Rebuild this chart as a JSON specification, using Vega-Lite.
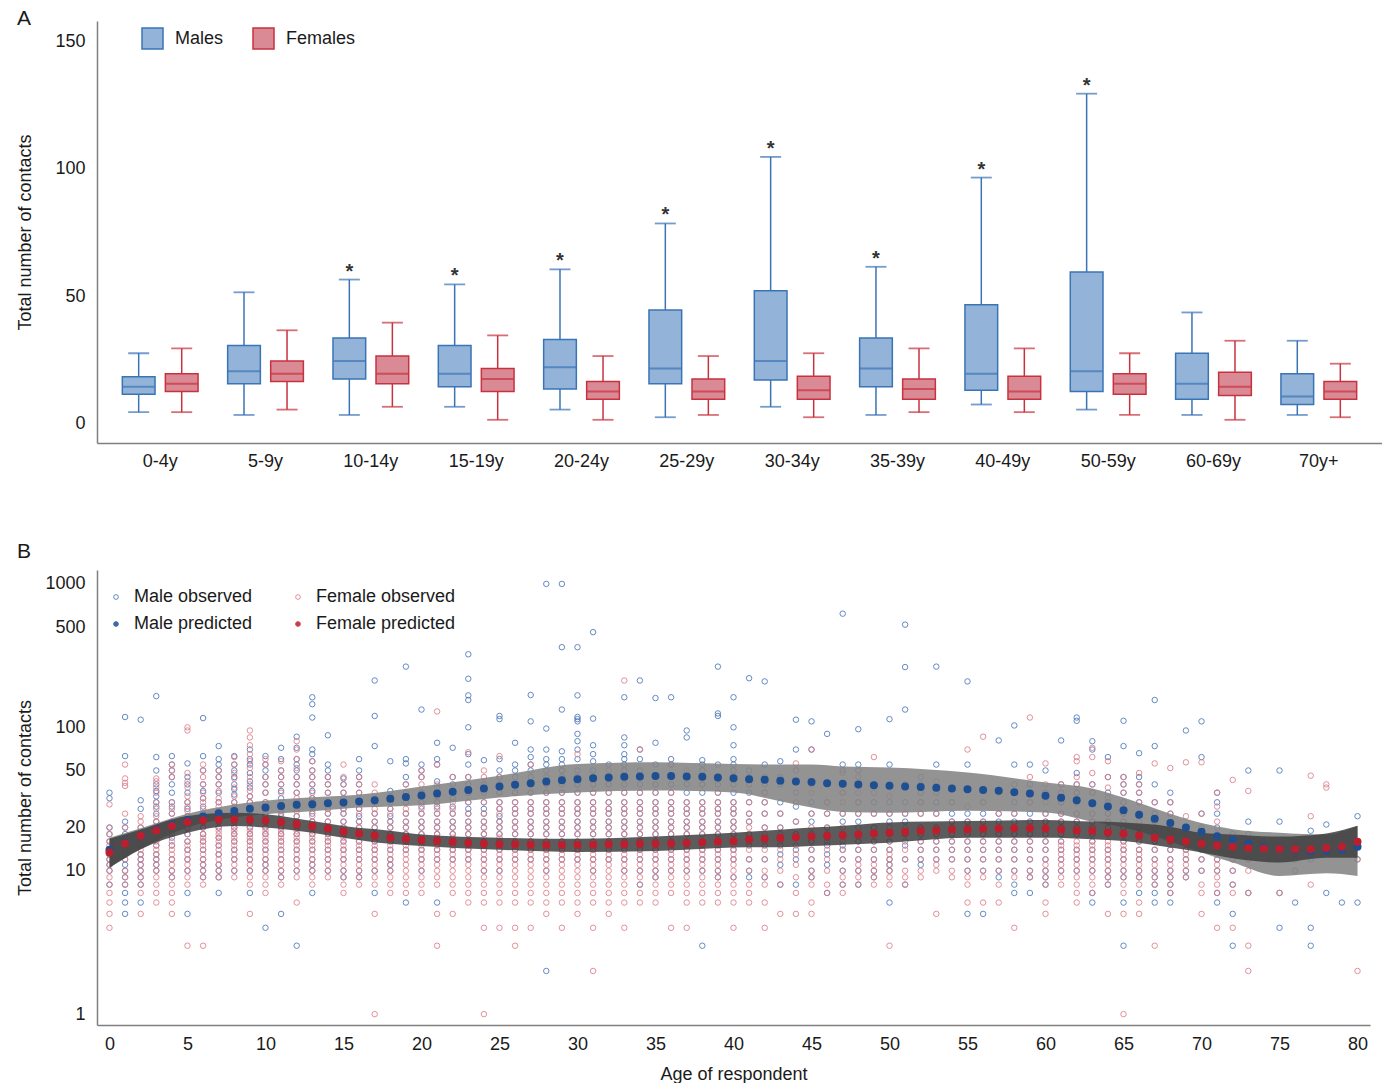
{
"$schema":"https://vega.github.io/schema/vega-lite/v6.json",
"padding":{"left":16,"top":8,"right":0,"bottom":0},
"spacing":71,
"resolve":{"scale":{"stroke":"independent","fill":"independent","color":"independent"},"legend":{"stroke":"independent","fill":"independent","color":"independent"}},
"config":{"font":"Liberation Sans","view":{"stroke":null},
"axis":{"grid":false,"ticks":false,"domainColor":"#7f7f7f","domainWidth":1.5,"labelFontSize":18,"labelColor":"#1a1a1a","titleFontSize":18,"titleFontWeight":"normal","titleColor":"#1a1a1a","labelFont":"Liberation Sans","titleFont":"Liberation Sans"},
"title":{"fontSize":21,"fontWeight":"normal","anchor":"start","frame":"bounds","color":"#1a1a1a"}},
"datasets":{
"pred":[
{"a":0,"m":14.0,"f":13.4},{"a":1,"m":15.7,"f":15.5},{"a":2,"m":17.5,"f":17.5},{"a":3,"m":19.4,"f":19.1},{"a":4,"m":21.1,"f":20.5},{"a":5,"m":22.6,"f":21.9},{"a":6,"m":23.9,"f":22.5},{"a":7,"m":25.2,"f":22.8},{"a":8,"m":26.1,"f":22.8},{"a":9,"m":27.1,"f":22.7},
{"a":10,"m":27.6,"f":22.4},{"a":11,"m":28.3,"f":21.8},{"a":12,"m":28.8,"f":21.1},{"a":13,"m":29.1,"f":20.4},{"a":14,"m":29.6,"f":19.7},{"a":15,"m":29.9,"f":18.8},{"a":16,"m":30.4,"f":18.2},{"a":17,"m":31.0,"f":17.6},{"a":18,"m":31.7,"f":17.0},{"a":19,"m":32.6,"f":16.7},
{"a":20,"m":33.4,"f":16.4},{"a":21,"m":34.5,"f":16.1},{"a":22,"m":35.5,"f":15.9},{"a":23,"m":36.5,"f":15.6},{"a":24,"m":37.4,"f":15.4},{"a":25,"m":38.7,"f":15.3},{"a":26,"m":39.7,"f":15.3},{"a":27,"m":40.8,"f":15.2},{"a":28,"m":41.9,"f":15.1},{"a":29,"m":42.8,"f":15.1},
{"a":30,"m":43.5,"f":15.1},{"a":31,"m":44.2,"f":15.2},{"a":32,"m":44.7,"f":15.3},{"a":33,"m":45.2,"f":15.3},{"a":34,"m":45.4,"f":15.4},{"a":35,"m":45.7,"f":15.4},{"a":36,"m":45.7,"f":15.5},{"a":37,"m":45.4,"f":15.6},{"a":38,"m":45.2,"f":15.8},{"a":39,"m":44.7,"f":16.0},
{"a":40,"m":44.2,"f":16.1},{"a":41,"m":43.5,"f":16.6},{"a":42,"m":43.1,"f":16.7},{"a":43,"m":42.4,"f":16.9},{"a":44,"m":41.9,"f":17.1},{"a":45,"m":41.5,"f":17.3},{"a":46,"m":40.8,"f":17.5},{"a":47,"m":40.4,"f":17.7},{"a":48,"m":39.9,"f":17.9},{"a":49,"m":39.5,"f":18.2},
{"a":50,"m":39.1,"f":18.4},{"a":51,"m":38.7,"f":18.7},{"a":52,"m":38.3,"f":19.0},{"a":53,"m":37.9,"f":19.1},{"a":54,"m":37.4,"f":19.4},{"a":55,"m":37.0,"f":19.4},{"a":56,"m":36.6,"f":19.6},{"a":57,"m":36.1,"f":19.7},{"a":58,"m":35.3,"f":19.8},{"a":59,"m":34.5,"f":19.8},
{"a":60,"m":33.3,"f":19.7},{"a":61,"m":32.3,"f":19.4},{"a":62,"m":31.0,"f":19.1},{"a":63,"m":29.6,"f":19.0},{"a":64,"m":28.0,"f":18.5},{"a":65,"m":26.4,"f":18.1},{"a":66,"m":24.6,"f":17.6},{"a":67,"m":23.0,"f":17.0},{"a":68,"m":21.5,"f":16.5},{"a":69,"m":20.0,"f":16.0},
{"a":70,"m":18.7,"f":15.4},{"a":71,"m":17.4,"f":15.0},{"a":72,"m":16.4,"f":14.7},{"a":73,"m":15.5,"f":14.4},{"a":74,"m":14.7,"f":14.3},{"a":75,"m":14.3,"f":14.2},{"a":76,"m":13.9,"f":14.1},{"a":77,"m":13.6,"f":14.1},{"a":78,"m":13.8,"f":14.4},{"a":79,"m":14.0,"f":14.7},{"a":80,"m":14.7,"f":15.9}],
"band":[
{"a":0,"mlo":10.5,"mhi":17.0,"flo":10.5,"fhi":16.7},{"a":2,"mlo":14.1,"mhi":19.8,"flo":14.1,"fhi":19.4},{"a":5,"mlo":20.0,"mhi":25.0,"flo":18.4,"fhi":24.1},{"a":8,"mlo":23.5,"mhi":29.0,"flo":20.5,"fhi":25.4},{"a":10,"mlo":24.8,"mhi":30.8,"flo":20.0,"fhi":24.8},{"a":13,"mlo":26.0,"mhi":32.5,"flo":18.4,"fhi":22.2},{"a":15,"mlo":27.1,"mhi":33.3,"flo":17.0,"fhi":20.5},{"a":18,"mlo":28.0,"mhi":36.0,"flo":15.4,"fhi":19.0},{"a":20,"mlo":28.6,"mhi":38.7,"flo":14.9,"fhi":17.9},{"a":25,"mlo":32.4,"mhi":46.0,"flo":14.0,"fhi":17.0},{"a":30,"mlo":35.1,"mhi":55.4,"flo":13.5,"fhi":16.7},{"a":35,"mlo":36.2,"mhi":57.0,"flo":13.7,"fhi":17.3},{"a":40,"mlo":35.1,"mhi":55.4,"flo":14.5,"fhi":18.4},{"a":43,"mlo":30.5,"mhi":55.0,"flo":14.6,"fhi":19.3},{"a":45,"mlo":27.6,"mhi":55.0,"flo":14.9,"fhi":20.0},{"a":47,"mlo":25.7,"mhi":53.3,"flo":15.2,"fhi":20.6},{"a":50,"mlo":25.4,"mhi":52.5,"flo":15.7,"fhi":21.7},{"a":55,"mlo":26.2,"mhi":48.5,"flo":17.0,"fhi":22.2},{"a":60,"mlo":25.5,"mhi":41.3,"flo":17.0,"fhi":22.6},{"a":63,"mlo":22.0,"mhi":37.5,"flo":16.6,"fhi":22.0},{"a":65,"mlo":20.0,"mhi":32.4,"flo":16.1,"fhi":21.7},{"a":68,"mlo":16.0,"mhi":25.0,"flo":14.5,"fhi":20.3},{"a":70,"mlo":13.4,"mhi":21.5,"flo":13.4,"fhi":18.4},{"a":72,"mlo":11.4,"mhi":19.5,"flo":12.2,"fhi":17.9},{"a":75,"mlo":9.2,"mhi":18.4,"flo":11.4,"fhi":17.3},{"a":78,"mlo":9.6,"mhi":17.9,"flo":12.3,"fhi":18.2},{"a":80,"mlo":9.2,"mhi":20.5,"flo":12.3,"fhi":20.6}],
"mo":[
{"a":0,"v":35},{"a":0,"v":32},{"a":0,"v":20},{"a":0,"v":18},{"a":0,"v":16},{"a":0,"v":14},{"a":0,"v":13},{"a":0,"v":12},{"a":0,"v":11},{"a":0,"v":10},{"a":0,"v":8},
{"a":1,"v":118},{"a":1,"v":63},{"a":1,"v":22},{"a":1,"v":20},{"a":1,"v":18},{"a":1,"v":15},{"a":1,"v":13},{"a":1,"v":12},{"a":1,"v":11},{"a":1,"v":10},{"a":1,"v":9},{"a":1,"v":8},{"a":1,"v":7},{"a":1,"v":6},{"a":1,"v":5},
{"a":2,"v":113},{"a":2,"v":31},{"a":2,"v":27},{"a":2,"v":20},{"a":2,"v":17},{"a":2,"v":15},{"a":2,"v":13},{"a":2,"v":12},{"a":2,"v":11},{"a":2,"v":10},{"a":2,"v":9},{"a":2,"v":8},{"a":2,"v":6},
{"a":3,"v":165},{"a":3,"v":62},{"a":3,"v":50},{"a":3,"v":40},{"a":3,"v":36},{"a":3,"v":33},{"a":3,"v":30},{"a":3,"v":28},{"a":3,"v":25},{"a":3,"v":22},{"a":3,"v":19},{"a":3,"v":17},{"a":3,"v":15},{"a":3,"v":13},{"a":3,"v":12},{"a":3,"v":11},{"a":3,"v":10},
{"a":4,"v":63},{"a":4,"v":55},{"a":4,"v":50},{"a":4,"v":45},{"a":4,"v":40},{"a":4,"v":35},{"a":4,"v":30},{"a":4,"v":28},{"a":4,"v":25},{"a":4,"v":22},{"a":4,"v":20},{"a":4,"v":17},{"a":4,"v":15},{"a":4,"v":12},{"a":4,"v":10},{"a":4,"v":9},
{"a":5,"v":56},{"a":5,"v":45},{"a":5,"v":40},{"a":5,"v":35},{"a":5,"v":30},{"a":5,"v":27},{"a":5,"v":24},{"a":5,"v":22},{"a":5,"v":20},{"a":5,"v":18},{"a":5,"v":16},{"a":5,"v":14},{"a":5,"v":12},{"a":5,"v":10},{"a":5,"v":7},{"a":5,"v":5},
{"a":6,"v":116},{"a":6,"v":63},{"a":6,"v":50},{"a":6,"v":40},{"a":6,"v":36},{"a":6,"v":32},{"a":6,"v":28},{"a":6,"v":25},{"a":6,"v":22},{"a":6,"v":20},{"a":6,"v":18},{"a":6,"v":16},{"a":6,"v":14},{"a":6,"v":12},{"a":6,"v":11},{"a":6,"v":10},{"a":6,"v":9},
{"a":7,"v":74},{"a":7,"v":60},{"a":7,"v":55},{"a":7,"v":50},{"a":7,"v":45},{"a":7,"v":40},{"a":7,"v":35},{"a":7,"v":30},{"a":7,"v":26},{"a":7,"v":24},{"a":7,"v":22},{"a":7,"v":20},{"a":7,"v":17},{"a":7,"v":15},{"a":7,"v":13},{"a":7,"v":11},{"a":7,"v":10},{"a":7,"v":9},{"a":7,"v":7},
{"a":8,"v":63},{"a":8,"v":55},{"a":8,"v":50},{"a":8,"v":45},{"a":8,"v":40},{"a":8,"v":37},{"a":8,"v":34},{"a":8,"v":30},{"a":8,"v":27},{"a":8,"v":24},{"a":8,"v":22},{"a":8,"v":20},{"a":8,"v":18},{"a":8,"v":16},{"a":8,"v":14},{"a":8,"v":12},{"a":8,"v":10},
{"a":9,"v":70},{"a":9,"v":60},{"a":9,"v":55},{"a":9,"v":48},{"a":9,"v":42},{"a":9,"v":38},{"a":9,"v":33},{"a":9,"v":30},{"a":9,"v":27},{"a":9,"v":25},{"a":9,"v":22},{"a":9,"v":20},{"a":9,"v":18},{"a":9,"v":16},{"a":9,"v":14},{"a":9,"v":12},{"a":9,"v":10},{"a":9,"v":7},
{"a":10,"v":63},{"a":10,"v":55},{"a":10,"v":50},{"a":10,"v":45},{"a":10,"v":40},{"a":10,"v":35},{"a":10,"v":30},{"a":10,"v":27},{"a":10,"v":25},{"a":10,"v":22},{"a":10,"v":20},{"a":10,"v":18},{"a":10,"v":16},{"a":10,"v":14},{"a":10,"v":12},{"a":10,"v":11},{"a":10,"v":10},{"a":10,"v":4},
{"a":11,"v":72},{"a":11,"v":60},{"a":11,"v":50},{"a":11,"v":45},{"a":11,"v":40},{"a":11,"v":36},{"a":11,"v":32},{"a":11,"v":28},{"a":11,"v":25},{"a":11,"v":22},{"a":11,"v":20},{"a":11,"v":18},{"a":11,"v":16},{"a":11,"v":14},{"a":11,"v":12},{"a":11,"v":10},{"a":11,"v":9},{"a":11,"v":5},
{"a":12,"v":86},{"a":12,"v":72},{"a":12,"v":60},{"a":12,"v":55},{"a":12,"v":50},{"a":12,"v":45},{"a":12,"v":40},{"a":12,"v":35},{"a":12,"v":30},{"a":12,"v":27},{"a":12,"v":24},{"a":12,"v":22},{"a":12,"v":20},{"a":12,"v":18},{"a":12,"v":16},{"a":12,"v":14},{"a":12,"v":12},{"a":12,"v":10},{"a":12,"v":3},
{"a":13,"v":162},{"a":13,"v":145},{"a":13,"v":117},{"a":13,"v":70},{"a":13,"v":65},{"a":13,"v":58},{"a":13,"v":50},{"a":13,"v":45},{"a":13,"v":40},{"a":13,"v":36},{"a":13,"v":32},{"a":13,"v":28},{"a":13,"v":25},{"a":13,"v":22},{"a":13,"v":20},{"a":13,"v":18},{"a":13,"v":16},{"a":13,"v":14},{"a":13,"v":12},{"a":13,"v":11},{"a":13,"v":10},{"a":13,"v":7},
{"a":14,"v":88},{"a":14,"v":55},{"a":14,"v":50},{"a":14,"v":45},{"a":14,"v":40},{"a":14,"v":35},{"a":14,"v":30},{"a":14,"v":27},{"a":14,"v":25},{"a":14,"v":22},{"a":14,"v":20},{"a":14,"v":18},{"a":14,"v":16},{"a":14,"v":14},{"a":14,"v":12},{"a":14,"v":10},
{"a":15,"v":44},{"a":15,"v":40},{"a":15,"v":35},{"a":15,"v":32},{"a":15,"v":30},{"a":15,"v":27},{"a":15,"v":25},{"a":15,"v":22},{"a":15,"v":20},{"a":15,"v":18},{"a":15,"v":16},{"a":15,"v":14},{"a":15,"v":12},{"a":15,"v":10},{"a":15,"v":9},
{"a":16,"v":60},{"a":16,"v":50},{"a":16,"v":45},{"a":16,"v":40},{"a":16,"v":35},{"a":16,"v":30},{"a":16,"v":27},{"a":16,"v":24},{"a":16,"v":22},{"a":16,"v":20},{"a":16,"v":18},{"a":16,"v":16},{"a":16,"v":14},{"a":16,"v":12},{"a":16,"v":10},{"a":16,"v":9},
{"a":17,"v":212},{"a":17,"v":120},{"a":17,"v":74},{"a":17,"v":30},{"a":17,"v":25},{"a":17,"v":22},{"a":17,"v":20},{"a":17,"v":18},{"a":17,"v":16},{"a":17,"v":14},{"a":17,"v":12},{"a":17,"v":10},{"a":17,"v":7},
{"a":18,"v":58},{"a":18,"v":36},{"a":18,"v":33},{"a":18,"v":30},{"a":18,"v":27},{"a":18,"v":24},{"a":18,"v":22},{"a":18,"v":20},{"a":18,"v":18},{"a":18,"v":16},{"a":18,"v":14},{"a":18,"v":12},{"a":18,"v":11},{"a":18,"v":10},
{"a":19,"v":265},{"a":19,"v":60},{"a":19,"v":56},{"a":19,"v":45},{"a":19,"v":40},{"a":19,"v":35},{"a":19,"v":30},{"a":19,"v":25},{"a":19,"v":22},{"a":19,"v":20},{"a":19,"v":18},{"a":19,"v":16},{"a":19,"v":14},{"a":19,"v":6},
{"a":20,"v":133},{"a":20,"v":55},{"a":20,"v":50},{"a":20,"v":45},{"a":20,"v":35},{"a":20,"v":30},{"a":20,"v":28},{"a":20,"v":25},{"a":20,"v":22},{"a":20,"v":20},{"a":20,"v":18},{"a":20,"v":16},{"a":20,"v":14},{"a":20,"v":12},{"a":20,"v":10},
{"a":21,"v":78},{"a":21,"v":60},{"a":21,"v":55},{"a":21,"v":42},{"a":21,"v":38},{"a":21,"v":33},{"a":21,"v":30},{"a":21,"v":28},{"a":21,"v":25},{"a":21,"v":22},{"a":21,"v":20},{"a":21,"v":18},{"a":21,"v":16},{"a":21,"v":14},{"a":21,"v":12},{"a":21,"v":6},
{"a":22,"v":72},{"a":22,"v":45},{"a":22,"v":40},{"a":22,"v":35},{"a":22,"v":32},{"a":22,"v":28},{"a":22,"v":25},{"a":22,"v":22},{"a":22,"v":20},{"a":22,"v":18},{"a":22,"v":16},{"a":22,"v":14},{"a":22,"v":12},
{"a":23,"v":323},{"a":23,"v":218},{"a":23,"v":167},{"a":23,"v":155},{"a":23,"v":100},{"a":23,"v":65},{"a":23,"v":55},{"a":23,"v":45},{"a":23,"v":40},{"a":23,"v":35},{"a":23,"v":30},{"a":23,"v":27},{"a":23,"v":25},{"a":23,"v":22},{"a":23,"v":20},{"a":23,"v":18},{"a":23,"v":16},{"a":23,"v":14},{"a":23,"v":12},
{"a":24,"v":59},{"a":24,"v":40},{"a":24,"v":35},{"a":24,"v":30},{"a":24,"v":27},{"a":24,"v":25},{"a":24,"v":22},{"a":24,"v":20},{"a":24,"v":18},{"a":24,"v":16},{"a":24,"v":14},{"a":24,"v":12},{"a":24,"v":10},
{"a":25,"v":120},{"a":25,"v":114},{"a":25,"v":60},{"a":25,"v":50},{"a":25,"v":45},{"a":25,"v":40},{"a":25,"v":35},{"a":25,"v":30},{"a":25,"v":27},{"a":25,"v":24},{"a":25,"v":22},{"a":25,"v":20},{"a":25,"v":18},{"a":25,"v":16},{"a":25,"v":14},{"a":25,"v":12},{"a":25,"v":10},
{"a":26,"v":78},{"a":26,"v":55},{"a":26,"v":50},{"a":26,"v":45},{"a":26,"v":40},{"a":26,"v":35},{"a":26,"v":30},{"a":26,"v":27},{"a":26,"v":25},{"a":26,"v":22},{"a":26,"v":20},{"a":26,"v":18},{"a":26,"v":16},{"a":26,"v":14},{"a":26,"v":12},
{"a":27,"v":168},{"a":27,"v":110},{"a":27,"v":70},{"a":27,"v":62},{"a":27,"v":55},{"a":27,"v":50},{"a":27,"v":45},{"a":27,"v":40},{"a":27,"v":35},{"a":27,"v":30},{"a":27,"v":27},{"a":27,"v":25},{"a":27,"v":22},{"a":27,"v":20},{"a":27,"v":18},{"a":27,"v":16},{"a":27,"v":14},{"a":27,"v":12},
{"a":28,"v":1000},{"a":28,"v":98},{"a":28,"v":70},{"a":28,"v":60},{"a":28,"v":55},{"a":28,"v":50},{"a":28,"v":45},{"a":28,"v":40},{"a":28,"v":35},{"a":28,"v":30},{"a":28,"v":27},{"a":28,"v":25},{"a":28,"v":22},{"a":28,"v":20},{"a":28,"v":18},{"a":28,"v":16},{"a":28,"v":14},{"a":28,"v":12},{"a":28,"v":10},{"a":28,"v":2},
{"a":29,"v":1000},{"a":29,"v":362},{"a":29,"v":133},{"a":29,"v":68},{"a":29,"v":60},{"a":29,"v":55},{"a":29,"v":50},{"a":29,"v":45},{"a":29,"v":40},{"a":29,"v":35},{"a":29,"v":30},{"a":29,"v":27},{"a":29,"v":25},{"a":29,"v":22},{"a":29,"v":20},{"a":29,"v":18},{"a":29,"v":16},{"a":29,"v":14},{"a":29,"v":12},
{"a":30,"v":362},{"a":30,"v":167},{"a":30,"v":118},{"a":30,"v":114},{"a":30,"v":110},{"a":30,"v":90},{"a":30,"v":80},{"a":30,"v":70},{"a":30,"v":60},{"a":30,"v":50},{"a":30,"v":45},{"a":30,"v":40},{"a":30,"v":35},{"a":30,"v":30},{"a":30,"v":27},{"a":30,"v":25},{"a":30,"v":22},{"a":30,"v":20},{"a":30,"v":18},{"a":30,"v":16},{"a":30,"v":14},{"a":30,"v":12},
{"a":31,"v":461},{"a":31,"v":115},{"a":31,"v":75},{"a":31,"v":65},{"a":31,"v":58},{"a":31,"v":50},{"a":31,"v":45},{"a":31,"v":40},{"a":31,"v":35},{"a":31,"v":30},{"a":31,"v":27},{"a":31,"v":25},{"a":31,"v":22},{"a":31,"v":20},{"a":31,"v":18},{"a":31,"v":16},{"a":31,"v":14},{"a":31,"v":12},{"a":31,"v":10},
{"a":32,"v":55},{"a":32,"v":45},{"a":32,"v":40},{"a":32,"v":35},{"a":32,"v":30},{"a":32,"v":27},{"a":32,"v":25},{"a":32,"v":22},{"a":32,"v":20},{"a":32,"v":18},{"a":32,"v":16},{"a":32,"v":14},{"a":32,"v":12},
{"a":33,"v":162},{"a":33,"v":85},{"a":33,"v":75},{"a":33,"v":65},{"a":33,"v":60},{"a":33,"v":55},{"a":33,"v":50},{"a":33,"v":45},{"a":33,"v":40},{"a":33,"v":35},{"a":33,"v":30},{"a":33,"v":27},{"a":33,"v":25},{"a":33,"v":22},{"a":33,"v":20},{"a":33,"v":18},{"a":33,"v":16},{"a":33,"v":14},{"a":33,"v":12},{"a":33,"v":10},
{"a":34,"v":212},{"a":34,"v":70},{"a":34,"v":60},{"a":34,"v":50},{"a":34,"v":45},{"a":34,"v":40},{"a":34,"v":35},{"a":34,"v":30},{"a":34,"v":27},{"a":34,"v":25},{"a":34,"v":22},{"a":34,"v":20},{"a":34,"v":18},{"a":34,"v":16},{"a":34,"v":14},{"a":34,"v":12},{"a":34,"v":10},{"a":34,"v":8},
{"a":35,"v":160},{"a":35,"v":78},{"a":35,"v":55},{"a":35,"v":45},{"a":35,"v":40},{"a":35,"v":35},{"a":35,"v":30},{"a":35,"v":27},{"a":35,"v":25},{"a":35,"v":22},{"a":35,"v":20},{"a":35,"v":18},{"a":35,"v":16},{"a":35,"v":14},{"a":35,"v":12},{"a":35,"v":10},{"a":35,"v":9},
{"a":36,"v":162},{"a":36,"v":60},{"a":36,"v":55},{"a":36,"v":45},{"a":36,"v":40},{"a":36,"v":35},{"a":36,"v":30},{"a":36,"v":27},{"a":36,"v":25},{"a":36,"v":22},{"a":36,"v":20},{"a":36,"v":18},{"a":36,"v":16},{"a":36,"v":14},{"a":36,"v":12},{"a":36,"v":10},
{"a":37,"v":95},{"a":37,"v":85},{"a":37,"v":40},{"a":37,"v":35},{"a":37,"v":30},{"a":37,"v":27},{"a":37,"v":25},{"a":37,"v":22},{"a":37,"v":20},{"a":37,"v":18},{"a":37,"v":16},{"a":37,"v":14},{"a":37,"v":12},{"a":37,"v":10},
{"a":38,"v":59},{"a":38,"v":55},{"a":38,"v":50},{"a":38,"v":45},{"a":38,"v":40},{"a":38,"v":35},{"a":38,"v":30},{"a":38,"v":27},{"a":38,"v":25},{"a":38,"v":22},{"a":38,"v":20},{"a":38,"v":18},{"a":38,"v":16},{"a":38,"v":14},{"a":38,"v":12},{"a":38,"v":10},{"a":38,"v":3},
{"a":39,"v":265},{"a":39,"v":125},{"a":39,"v":120},{"a":39,"v":55},{"a":39,"v":45},{"a":39,"v":40},{"a":39,"v":35},{"a":39,"v":30},{"a":39,"v":27},{"a":39,"v":25},{"a":39,"v":22},{"a":39,"v":20},{"a":39,"v":18},{"a":39,"v":16},{"a":39,"v":14},{"a":39,"v":12},{"a":39,"v":10},{"a":39,"v":9},
{"a":40,"v":162},{"a":40,"v":100},{"a":40,"v":75},{"a":40,"v":60},{"a":40,"v":55},{"a":40,"v":50},{"a":40,"v":45},{"a":40,"v":40},{"a":40,"v":35},{"a":40,"v":30},{"a":40,"v":27},{"a":40,"v":25},{"a":40,"v":22},{"a":40,"v":20},{"a":40,"v":18},{"a":40,"v":16},{"a":40,"v":14},{"a":40,"v":12},{"a":40,"v":9},
{"a":41,"v":220},{"a":41,"v":50},{"a":41,"v":45},{"a":41,"v":40},{"a":41,"v":35},{"a":41,"v":30},{"a":41,"v":25},{"a":41,"v":22},{"a":41,"v":18},{"a":41,"v":15},{"a":41,"v":12},{"a":41,"v":10},{"a":41,"v":9},
{"a":42,"v":209},{"a":42,"v":55},{"a":42,"v":45},{"a":42,"v":40},{"a":42,"v":35},{"a":42,"v":30},{"a":42,"v":25},{"a":42,"v":20},{"a":42,"v":17},{"a":42,"v":15},{"a":42,"v":12},{"a":42,"v":9},
{"a":43,"v":58},{"a":43,"v":45},{"a":43,"v":40},{"a":43,"v":30},{"a":43,"v":25},{"a":43,"v":20},{"a":43,"v":17},{"a":43,"v":15},{"a":43,"v":13},{"a":43,"v":11},{"a":43,"v":8},
{"a":44,"v":113},{"a":44,"v":70},{"a":44,"v":50},{"a":44,"v":35},{"a":44,"v":28},{"a":44,"v":22},{"a":44,"v":18},{"a":44,"v":14},{"a":44,"v":12},{"a":44,"v":8},
{"a":45,"v":110},{"a":45,"v":70},{"a":45,"v":40},{"a":45,"v":30},{"a":45,"v":25},{"a":45,"v":22},{"a":45,"v":18},{"a":45,"v":16},{"a":45,"v":14},{"a":45,"v":12},{"a":45,"v":10},{"a":45,"v":9},
{"a":46,"v":90},{"a":46,"v":40},{"a":46,"v":30},{"a":46,"v":25},{"a":46,"v":20},{"a":46,"v":17},{"a":46,"v":15},{"a":46,"v":13},{"a":46,"v":11},{"a":46,"v":7},
{"a":47,"v":620},{"a":47,"v":55},{"a":47,"v":50},{"a":47,"v":40},{"a":47,"v":35},{"a":47,"v":25},{"a":47,"v":22},{"a":47,"v":18},{"a":47,"v":15},{"a":47,"v":14},{"a":47,"v":12},{"a":47,"v":10},{"a":47,"v":8},
{"a":48,"v":97},{"a":48,"v":55},{"a":48,"v":50},{"a":48,"v":40},{"a":48,"v":30},{"a":48,"v":25},{"a":48,"v":22},{"a":48,"v":18},{"a":48,"v":16},{"a":48,"v":14},{"a":48,"v":12},{"a":48,"v":10},{"a":48,"v":8},
{"a":49,"v":40},{"a":49,"v":30},{"a":49,"v":25},{"a":49,"v":20},{"a":49,"v":18},{"a":49,"v":16},{"a":49,"v":14},{"a":49,"v":12},{"a":49,"v":10},{"a":49,"v":9},
{"a":50,"v":114},{"a":50,"v":55},{"a":50,"v":40},{"a":50,"v":30},{"a":50,"v":25},{"a":50,"v":22},{"a":50,"v":18},{"a":50,"v":16},{"a":50,"v":14},{"a":50,"v":12},{"a":50,"v":11},{"a":50,"v":10},{"a":50,"v":6},
{"a":51,"v":520},{"a":51,"v":263},{"a":51,"v":133},{"a":51,"v":40},{"a":51,"v":30},{"a":51,"v":25},{"a":51,"v":22},{"a":51,"v":18},{"a":51,"v":15},{"a":51,"v":12},{"a":51,"v":8},
{"a":52,"v":45},{"a":52,"v":40},{"a":52,"v":35},{"a":52,"v":30},{"a":52,"v":25},{"a":52,"v":20},{"a":52,"v":18},{"a":52,"v":16},{"a":52,"v":14},{"a":52,"v":12},{"a":52,"v":11},
{"a":53,"v":265},{"a":53,"v":55},{"a":53,"v":35},{"a":53,"v":30},{"a":53,"v":25},{"a":53,"v":20},{"a":53,"v":18},{"a":53,"v":16},{"a":53,"v":14},{"a":53,"v":12},
{"a":54,"v":30},{"a":54,"v":25},{"a":54,"v":22},{"a":54,"v":20},{"a":54,"v":18},{"a":54,"v":16},{"a":54,"v":14},{"a":54,"v":12},
{"a":55,"v":209},{"a":55,"v":55},{"a":55,"v":25},{"a":55,"v":22},{"a":55,"v":20},{"a":55,"v":18},{"a":55,"v":16},{"a":55,"v":14},{"a":55,"v":12},{"a":55,"v":10},{"a":55,"v":5},
{"a":56,"v":30},{"a":56,"v":25},{"a":56,"v":22},{"a":56,"v":18},{"a":56,"v":16},{"a":56,"v":14},{"a":56,"v":12},{"a":56,"v":10},{"a":56,"v":5},
{"a":57,"v":81},{"a":57,"v":25},{"a":57,"v":22},{"a":57,"v":18},{"a":57,"v":16},{"a":57,"v":14},{"a":57,"v":12},{"a":57,"v":10},{"a":57,"v":9},
{"a":58,"v":103},{"a":58,"v":55},{"a":58,"v":40},{"a":58,"v":30},{"a":58,"v":25},{"a":58,"v":22},{"a":58,"v":18},{"a":58,"v":16},{"a":58,"v":14},{"a":58,"v":12},{"a":58,"v":10},{"a":58,"v":8},{"a":58,"v":7},
{"a":59,"v":55},{"a":59,"v":40},{"a":59,"v":30},{"a":59,"v":25},{"a":59,"v":22},{"a":59,"v":18},{"a":59,"v":16},{"a":59,"v":14},{"a":59,"v":12},{"a":59,"v":10},{"a":59,"v":9},{"a":59,"v":7},
{"a":60,"v":50},{"a":60,"v":35},{"a":60,"v":25},{"a":60,"v":22},{"a":60,"v":20},{"a":60,"v":18},{"a":60,"v":16},{"a":60,"v":14},{"a":60,"v":12},{"a":60,"v":10},{"a":60,"v":9},{"a":60,"v":8},
{"a":61,"v":81},{"a":61,"v":40},{"a":61,"v":35},{"a":61,"v":30},{"a":61,"v":25},{"a":61,"v":22},{"a":61,"v":20},{"a":61,"v":18},{"a":61,"v":16},{"a":61,"v":14},{"a":61,"v":12},{"a":61,"v":10},
{"a":62,"v":117},{"a":62,"v":111},{"a":62,"v":48},{"a":62,"v":40},{"a":62,"v":35},{"a":62,"v":30},{"a":62,"v":25},{"a":62,"v":22},{"a":62,"v":20},{"a":62,"v":18},{"a":62,"v":14},{"a":62,"v":12},{"a":62,"v":10},
{"a":63,"v":80},{"a":63,"v":70},{"a":63,"v":40},{"a":63,"v":35},{"a":63,"v":30},{"a":63,"v":25},{"a":63,"v":22},{"a":63,"v":20},{"a":63,"v":18},{"a":63,"v":16},{"a":63,"v":14},{"a":63,"v":12},{"a":63,"v":10},{"a":63,"v":7},{"a":63,"v":6},
{"a":64,"v":62},{"a":64,"v":45},{"a":64,"v":35},{"a":64,"v":30},{"a":64,"v":25},{"a":64,"v":22},{"a":64,"v":20},{"a":64,"v":18},{"a":64,"v":14},{"a":64,"v":12},{"a":64,"v":10},{"a":64,"v":9},{"a":64,"v":8},
{"a":65,"v":111},{"a":65,"v":74},{"a":65,"v":45},{"a":65,"v":40},{"a":65,"v":35},{"a":65,"v":30},{"a":65,"v":25},{"a":65,"v":22},{"a":65,"v":20},{"a":65,"v":18},{"a":65,"v":16},{"a":65,"v":14},{"a":65,"v":12},{"a":65,"v":10},{"a":65,"v":9},{"a":65,"v":6},{"a":65,"v":3},
{"a":66,"v":66},{"a":66,"v":45},{"a":66,"v":40},{"a":66,"v":35},{"a":66,"v":30},{"a":66,"v":25},{"a":66,"v":20},{"a":66,"v":18},{"a":66,"v":16},{"a":66,"v":14},{"a":66,"v":12},{"a":66,"v":10},{"a":66,"v":9},{"a":66,"v":7},
{"a":67,"v":155},{"a":67,"v":74},{"a":67,"v":40},{"a":67,"v":30},{"a":67,"v":25},{"a":67,"v":22},{"a":67,"v":20},{"a":67,"v":18},{"a":67,"v":16},{"a":67,"v":14},{"a":67,"v":12},{"a":67,"v":10},{"a":67,"v":9},{"a":67,"v":8},{"a":67,"v":7},{"a":67,"v":6},
{"a":68,"v":35},{"a":68,"v":30},{"a":68,"v":25},{"a":68,"v":20},{"a":68,"v":18},{"a":68,"v":16},{"a":68,"v":14},{"a":68,"v":12},{"a":68,"v":10},{"a":68,"v":9},{"a":68,"v":8},{"a":68,"v":7},{"a":68,"v":6},
{"a":69,"v":95},{"a":69,"v":20},{"a":69,"v":18},{"a":69,"v":16},{"a":69,"v":14},{"a":69,"v":12},{"a":69,"v":10},{"a":69,"v":9},
{"a":70,"v":110},{"a":70,"v":62},{"a":70,"v":25},{"a":70,"v":20},{"a":70,"v":17},{"a":70,"v":14},{"a":70,"v":12},{"a":70,"v":10},
{"a":71,"v":35},{"a":71,"v":30},{"a":71,"v":25},{"a":71,"v":20},{"a":71,"v":17},{"a":71,"v":15},{"a":71,"v":12},{"a":71,"v":10},{"a":71,"v":7},{"a":71,"v":6},
{"a":72,"v":18},{"a":72,"v":16},{"a":72,"v":14},{"a":72,"v":12},{"a":72,"v":10},{"a":72,"v":8},{"a":72,"v":5},{"a":72,"v":3},
{"a":73,"v":50},{"a":73,"v":22},{"a":73,"v":18},{"a":73,"v":16},{"a":73,"v":12},{"a":73,"v":7},
{"a":75,"v":50},{"a":75,"v":22},{"a":75,"v":7},{"a":75,"v":4},
{"a":76,"v":12},{"a":76,"v":10},{"a":76,"v":6},
{"a":77,"v":19},{"a":77,"v":12},{"a":77,"v":4},{"a":77,"v":3},
{"a":78,"v":21},{"a":78,"v":7},
{"a":79,"v":18},{"a":79,"v":14},{"a":79,"v":6},
{"a":80,"v":24},{"a":80,"v":12},{"a":80,"v":6}],
"fo":[
{"a":0,"v":29},{"a":0,"v":20},{"a":0,"v":18},{"a":0,"v":16},{"a":0,"v":15},{"a":0,"v":14},{"a":0,"v":13},{"a":0,"v":12},{"a":0,"v":11},{"a":0,"v":10},{"a":0,"v":9},{"a":0,"v":8},{"a":0,"v":7},{"a":0,"v":6},{"a":0,"v":5},{"a":0,"v":4},
{"a":1,"v":55},{"a":1,"v":44},{"a":1,"v":41},{"a":1,"v":39},{"a":1,"v":25},{"a":1,"v":20},{"a":1,"v":17},{"a":1,"v":15},{"a":1,"v":14},{"a":1,"v":12},{"a":1,"v":10},{"a":1,"v":9},{"a":1,"v":8},
{"a":2,"v":24},{"a":2,"v":22},{"a":2,"v":20},{"a":2,"v":18},{"a":2,"v":17},{"a":2,"v":16},{"a":2,"v":15},{"a":2,"v":14},{"a":2,"v":13},{"a":2,"v":12},{"a":2,"v":11},{"a":2,"v":10},{"a":2,"v":9},{"a":2,"v":8},{"a":2,"v":7},{"a":2,"v":5},
{"a":3,"v":44},{"a":3,"v":42},{"a":3,"v":38},{"a":3,"v":35},{"a":3,"v":30},{"a":3,"v":27},{"a":3,"v":24},{"a":3,"v":22},{"a":3,"v":20},{"a":3,"v":18},{"a":3,"v":16},{"a":3,"v":15},{"a":3,"v":14},{"a":3,"v":13},{"a":3,"v":12},{"a":3,"v":11},{"a":3,"v":10},{"a":3,"v":9},{"a":3,"v":8},{"a":3,"v":7},{"a":3,"v":6},
{"a":4,"v":55},{"a":4,"v":50},{"a":4,"v":45},{"a":4,"v":30},{"a":4,"v":27},{"a":4,"v":25},{"a":4,"v":22},{"a":4,"v":20},{"a":4,"v":18},{"a":4,"v":16},{"a":4,"v":15},{"a":4,"v":14},{"a":4,"v":13},{"a":4,"v":12},{"a":4,"v":11},{"a":4,"v":10},{"a":4,"v":9},{"a":4,"v":8},{"a":4,"v":7},{"a":4,"v":6},{"a":4,"v":5},
{"a":5,"v":100},{"a":5,"v":95},{"a":5,"v":48},{"a":5,"v":42},{"a":5,"v":38},{"a":5,"v":33},{"a":5,"v":30},{"a":5,"v":28},{"a":5,"v":26},{"a":5,"v":24},{"a":5,"v":22},{"a":5,"v":20},{"a":5,"v":18},{"a":5,"v":16},{"a":5,"v":15},{"a":5,"v":14},{"a":5,"v":13},{"a":5,"v":12},{"a":5,"v":11},{"a":5,"v":10},{"a":5,"v":9},{"a":5,"v":8},{"a":5,"v":3},
{"a":6,"v":55},{"a":6,"v":50},{"a":6,"v":45},{"a":6,"v":40},{"a":6,"v":35},{"a":6,"v":32},{"a":6,"v":30},{"a":6,"v":27},{"a":6,"v":25},{"a":6,"v":22},{"a":6,"v":20},{"a":6,"v":18},{"a":6,"v":17},{"a":6,"v":16},{"a":6,"v":15},{"a":6,"v":14},{"a":6,"v":13},{"a":6,"v":12},{"a":6,"v":11},{"a":6,"v":10},{"a":6,"v":9},{"a":6,"v":8},{"a":6,"v":3},
{"a":7,"v":50},{"a":7,"v":45},{"a":7,"v":40},{"a":7,"v":36},{"a":7,"v":32},{"a":7,"v":30},{"a":7,"v":28},{"a":7,"v":26},{"a":7,"v":24},{"a":7,"v":22},{"a":7,"v":20},{"a":7,"v":19},{"a":7,"v":18},{"a":7,"v":17},{"a":7,"v":16},{"a":7,"v":15},{"a":7,"v":14},{"a":7,"v":13},{"a":7,"v":12},{"a":7,"v":11},{"a":7,"v":10},{"a":7,"v":9},
{"a":8,"v":62},{"a":8,"v":55},{"a":8,"v":48},{"a":8,"v":44},{"a":8,"v":38},{"a":8,"v":33},{"a":8,"v":30},{"a":8,"v":28},{"a":8,"v":25},{"a":8,"v":23},{"a":8,"v":21},{"a":8,"v":20},{"a":8,"v":19},{"a":8,"v":18},{"a":8,"v":17},{"a":8,"v":16},{"a":8,"v":15},{"a":8,"v":14},{"a":8,"v":13},{"a":8,"v":12},{"a":8,"v":11},{"a":8,"v":10},{"a":8,"v":9},
{"a":9,"v":95},{"a":9,"v":85},{"a":9,"v":75},{"a":9,"v":65},{"a":9,"v":58},{"a":9,"v":52},{"a":9,"v":45},{"a":9,"v":40},{"a":9,"v":36},{"a":9,"v":33},{"a":9,"v":30},{"a":9,"v":28},{"a":9,"v":26},{"a":9,"v":24},{"a":9,"v":22},{"a":9,"v":20},{"a":9,"v":19},{"a":9,"v":18},{"a":9,"v":17},{"a":9,"v":16},{"a":9,"v":15},{"a":9,"v":14},{"a":9,"v":13},{"a":9,"v":12},{"a":9,"v":11},{"a":9,"v":10},{"a":9,"v":9},{"a":9,"v":8},{"a":9,"v":5},
{"a":10,"v":60},{"a":10,"v":55},{"a":10,"v":45},{"a":10,"v":40},{"a":10,"v":35},{"a":10,"v":30},{"a":10,"v":28},{"a":10,"v":26},{"a":10,"v":24},{"a":10,"v":22},{"a":10,"v":20},{"a":10,"v":19},{"a":10,"v":18},{"a":10,"v":17},{"a":10,"v":16},{"a":10,"v":15},{"a":10,"v":14},{"a":10,"v":13},{"a":10,"v":12},{"a":10,"v":11},{"a":10,"v":10},{"a":10,"v":9},{"a":10,"v":8},{"a":10,"v":7},
{"a":11,"v":58},{"a":11,"v":50},{"a":11,"v":45},{"a":11,"v":40},{"a":11,"v":35},{"a":11,"v":30},{"a":11,"v":28},{"a":11,"v":26},{"a":11,"v":24},{"a":11,"v":22},{"a":11,"v":20},{"a":11,"v":19},{"a":11,"v":18},{"a":11,"v":17},{"a":11,"v":16},{"a":11,"v":15},{"a":11,"v":14},{"a":11,"v":13},{"a":11,"v":12},{"a":11,"v":11},{"a":11,"v":10},{"a":11,"v":9},{"a":11,"v":8},
{"a":12,"v":80},{"a":12,"v":70},{"a":12,"v":60},{"a":12,"v":52},{"a":12,"v":45},{"a":12,"v":40},{"a":12,"v":35},{"a":12,"v":32},{"a":12,"v":30},{"a":12,"v":28},{"a":12,"v":26},{"a":12,"v":24},{"a":12,"v":22},{"a":12,"v":20},{"a":12,"v":19},{"a":12,"v":18},{"a":12,"v":17},{"a":12,"v":16},{"a":12,"v":15},{"a":12,"v":14},{"a":12,"v":13},{"a":12,"v":12},{"a":12,"v":11},{"a":12,"v":10},{"a":12,"v":9},{"a":12,"v":6},
{"a":13,"v":58},{"a":13,"v":50},{"a":13,"v":45},{"a":13,"v":40},{"a":13,"v":35},{"a":13,"v":32},{"a":13,"v":30},{"a":13,"v":28},{"a":13,"v":26},{"a":13,"v":24},{"a":13,"v":22},{"a":13,"v":20},{"a":13,"v":19},{"a":13,"v":18},{"a":13,"v":17},{"a":13,"v":16},{"a":13,"v":15},{"a":13,"v":14},{"a":13,"v":13},{"a":13,"v":12},{"a":13,"v":11},{"a":13,"v":10},{"a":13,"v":9},{"a":13,"v":8},
{"a":14,"v":45},{"a":14,"v":40},{"a":14,"v":35},{"a":14,"v":30},{"a":14,"v":27},{"a":14,"v":25},{"a":14,"v":22},{"a":14,"v":20},{"a":14,"v":18},{"a":14,"v":17},{"a":14,"v":16},{"a":14,"v":15},{"a":14,"v":14},{"a":14,"v":13},{"a":14,"v":12},{"a":14,"v":11},{"a":14,"v":10},{"a":14,"v":9},
{"a":15,"v":55},{"a":15,"v":45},{"a":15,"v":40},{"a":15,"v":35},{"a":15,"v":30},{"a":15,"v":27},{"a":15,"v":25},{"a":15,"v":22},{"a":15,"v":20},{"a":15,"v":18},{"a":15,"v":17},{"a":15,"v":16},{"a":15,"v":15},{"a":15,"v":14},{"a":15,"v":13},{"a":15,"v":12},{"a":15,"v":11},{"a":15,"v":10},{"a":15,"v":9},{"a":15,"v":8},{"a":15,"v":7},
{"a":16,"v":45},{"a":16,"v":40},{"a":16,"v":35},{"a":16,"v":30},{"a":16,"v":27},{"a":16,"v":25},{"a":16,"v":22},{"a":16,"v":20},{"a":16,"v":18},{"a":16,"v":16},{"a":16,"v":15},{"a":16,"v":14},{"a":16,"v":13},{"a":16,"v":12},{"a":16,"v":11},{"a":16,"v":10},{"a":16,"v":9},{"a":16,"v":8},
{"a":17,"v":40},{"a":17,"v":35},{"a":17,"v":30},{"a":17,"v":27},{"a":17,"v":25},{"a":17,"v":22},{"a":17,"v":20},{"a":17,"v":18},{"a":17,"v":16},{"a":17,"v":15},{"a":17,"v":14},{"a":17,"v":13},{"a":17,"v":12},{"a":17,"v":11},{"a":17,"v":10},{"a":17,"v":9},{"a":17,"v":8},{"a":17,"v":5},{"a":17,"v":1},
{"a":18,"v":30},{"a":18,"v":27},{"a":18,"v":25},{"a":18,"v":22},{"a":18,"v":20},{"a":18,"v":18},{"a":18,"v":16},{"a":18,"v":15},{"a":18,"v":14},{"a":18,"v":13},{"a":18,"v":12},{"a":18,"v":11},{"a":18,"v":10},{"a":18,"v":9},{"a":18,"v":8},{"a":18,"v":7},
{"a":19,"v":40},{"a":19,"v":35},{"a":19,"v":30},{"a":19,"v":27},{"a":19,"v":25},{"a":19,"v":22},{"a":19,"v":20},{"a":19,"v":18},{"a":19,"v":16},{"a":19,"v":15},{"a":19,"v":14},{"a":19,"v":13},{"a":19,"v":12},{"a":19,"v":11},{"a":19,"v":10},{"a":19,"v":9},{"a":19,"v":8},{"a":19,"v":7},
{"a":20,"v":50},{"a":20,"v":45},{"a":20,"v":40},{"a":20,"v":35},{"a":20,"v":30},{"a":20,"v":27},{"a":20,"v":25},{"a":20,"v":22},{"a":20,"v":20},{"a":20,"v":18},{"a":20,"v":17},{"a":20,"v":16},{"a":20,"v":15},{"a":20,"v":14},{"a":20,"v":13},{"a":20,"v":12},{"a":20,"v":11},{"a":20,"v":10},{"a":20,"v":9},{"a":20,"v":8},{"a":20,"v":7},
{"a":21,"v":129},{"a":21,"v":55},{"a":21,"v":40},{"a":21,"v":35},{"a":21,"v":30},{"a":21,"v":27},{"a":21,"v":25},{"a":21,"v":22},{"a":21,"v":20},{"a":21,"v":18},{"a":21,"v":17},{"a":21,"v":16},{"a":21,"v":15},{"a":21,"v":14},{"a":21,"v":13},{"a":21,"v":12},{"a":21,"v":11},{"a":21,"v":10},{"a":21,"v":9},{"a":21,"v":8},{"a":21,"v":5},{"a":21,"v":3},
{"a":22,"v":45},{"a":22,"v":30},{"a":22,"v":27},{"a":22,"v":25},{"a":22,"v":22},{"a":22,"v":20},{"a":22,"v":18},{"a":22,"v":17},{"a":22,"v":16},{"a":22,"v":15},{"a":22,"v":14},{"a":22,"v":13},{"a":22,"v":12},{"a":22,"v":11},{"a":22,"v":10},{"a":22,"v":9},{"a":22,"v":8},{"a":22,"v":7},{"a":22,"v":5},
{"a":23,"v":67},{"a":23,"v":45},{"a":23,"v":35},{"a":23,"v":30},{"a":23,"v":25},{"a":23,"v":22},{"a":23,"v":20},{"a":23,"v":18},{"a":23,"v":16},{"a":23,"v":15},{"a":23,"v":14},{"a":23,"v":13},{"a":23,"v":12},{"a":23,"v":11},{"a":23,"v":10},{"a":23,"v":9},{"a":23,"v":8},{"a":23,"v":7},{"a":23,"v":6},
{"a":24,"v":50},{"a":24,"v":45},{"a":24,"v":40},{"a":24,"v":30},{"a":24,"v":25},{"a":24,"v":22},{"a":24,"v":20},{"a":24,"v":18},{"a":24,"v":16},{"a":24,"v":15},{"a":24,"v":14},{"a":24,"v":13},{"a":24,"v":12},{"a":24,"v":11},{"a":24,"v":10},{"a":24,"v":9},{"a":24,"v":8},{"a":24,"v":7},{"a":24,"v":6},{"a":24,"v":4},{"a":24,"v":1},
{"a":25,"v":63},{"a":25,"v":45},{"a":25,"v":40},{"a":25,"v":35},{"a":25,"v":30},{"a":25,"v":27},{"a":25,"v":25},{"a":25,"v":22},{"a":25,"v":20},{"a":25,"v":18},{"a":25,"v":17},{"a":25,"v":16},{"a":25,"v":15},{"a":25,"v":14},{"a":25,"v":13},{"a":25,"v":12},{"a":25,"v":11},{"a":25,"v":10},{"a":25,"v":9},{"a":25,"v":8},{"a":25,"v":7},{"a":25,"v":6},{"a":25,"v":4},
{"a":26,"v":40},{"a":26,"v":35},{"a":26,"v":30},{"a":26,"v":27},{"a":26,"v":25},{"a":26,"v":22},{"a":26,"v":20},{"a":26,"v":18},{"a":26,"v":16},{"a":26,"v":15},{"a":26,"v":14},{"a":26,"v":13},{"a":26,"v":12},{"a":26,"v":11},{"a":26,"v":10},{"a":26,"v":9},{"a":26,"v":8},{"a":26,"v":7},{"a":26,"v":6},{"a":26,"v":4},{"a":26,"v":3},
{"a":27,"v":55},{"a":27,"v":40},{"a":27,"v":35},{"a":27,"v":30},{"a":27,"v":27},{"a":27,"v":25},{"a":27,"v":22},{"a":27,"v":20},{"a":27,"v":18},{"a":27,"v":16},{"a":27,"v":15},{"a":27,"v":14},{"a":27,"v":13},{"a":27,"v":12},{"a":27,"v":11},{"a":27,"v":10},{"a":27,"v":9},{"a":27,"v":8},{"a":27,"v":7},{"a":27,"v":6},{"a":27,"v":4},
{"a":28,"v":40},{"a":28,"v":35},{"a":28,"v":30},{"a":28,"v":27},{"a":28,"v":25},{"a":28,"v":22},{"a":28,"v":20},{"a":28,"v":18},{"a":28,"v":16},{"a":28,"v":15},{"a":28,"v":14},{"a":28,"v":13},{"a":28,"v":12},{"a":28,"v":11},{"a":28,"v":10},{"a":28,"v":9},{"a":28,"v":8},{"a":28,"v":7},{"a":28,"v":6},{"a":28,"v":5},
{"a":29,"v":50},{"a":29,"v":40},{"a":29,"v":35},{"a":29,"v":30},{"a":29,"v":27},{"a":29,"v":25},{"a":29,"v":22},{"a":29,"v":20},{"a":29,"v":18},{"a":29,"v":16},{"a":29,"v":15},{"a":29,"v":14},{"a":29,"v":13},{"a":29,"v":12},{"a":29,"v":11},{"a":29,"v":10},{"a":29,"v":9},{"a":29,"v":8},{"a":29,"v":7},{"a":29,"v":6},{"a":29,"v":4},
{"a":30,"v":65},{"a":30,"v":45},{"a":30,"v":40},{"a":30,"v":35},{"a":30,"v":30},{"a":30,"v":27},{"a":30,"v":25},{"a":30,"v":22},{"a":30,"v":20},{"a":30,"v":18},{"a":30,"v":16},{"a":30,"v":15},{"a":30,"v":14},{"a":30,"v":13},{"a":30,"v":12},{"a":30,"v":11},{"a":30,"v":10},{"a":30,"v":9},{"a":30,"v":8},{"a":30,"v":7},{"a":30,"v":6},{"a":30,"v":5},
{"a":31,"v":40},{"a":31,"v":35},{"a":31,"v":30},{"a":31,"v":27},{"a":31,"v":25},{"a":31,"v":22},{"a":31,"v":20},{"a":31,"v":18},{"a":31,"v":16},{"a":31,"v":15},{"a":31,"v":14},{"a":31,"v":13},{"a":31,"v":12},{"a":31,"v":11},{"a":31,"v":10},{"a":31,"v":9},{"a":31,"v":8},{"a":31,"v":7},{"a":31,"v":6},{"a":31,"v":4},{"a":31,"v":2},
{"a":32,"v":50},{"a":32,"v":40},{"a":32,"v":35},{"a":32,"v":30},{"a":32,"v":27},{"a":32,"v":25},{"a":32,"v":22},{"a":32,"v":20},{"a":32,"v":18},{"a":32,"v":16},{"a":32,"v":15},{"a":32,"v":14},{"a":32,"v":13},{"a":32,"v":12},{"a":32,"v":11},{"a":32,"v":10},{"a":32,"v":9},{"a":32,"v":8},{"a":32,"v":7},{"a":32,"v":6},{"a":32,"v":5},
{"a":33,"v":212},{"a":33,"v":35},{"a":33,"v":30},{"a":33,"v":27},{"a":33,"v":25},{"a":33,"v":22},{"a":33,"v":20},{"a":33,"v":18},{"a":33,"v":16},{"a":33,"v":15},{"a":33,"v":14},{"a":33,"v":13},{"a":33,"v":12},{"a":33,"v":11},{"a":33,"v":10},{"a":33,"v":9},{"a":33,"v":8},{"a":33,"v":7},{"a":33,"v":6},{"a":33,"v":4},
{"a":34,"v":70},{"a":34,"v":35},{"a":34,"v":30},{"a":34,"v":27},{"a":34,"v":25},{"a":34,"v":22},{"a":34,"v":20},{"a":34,"v":18},{"a":34,"v":16},{"a":34,"v":15},{"a":34,"v":14},{"a":34,"v":13},{"a":34,"v":12},{"a":34,"v":11},{"a":34,"v":10},{"a":34,"v":9},{"a":34,"v":8},{"a":34,"v":7},{"a":34,"v":6},
{"a":35,"v":40},{"a":35,"v":35},{"a":35,"v":30},{"a":35,"v":27},{"a":35,"v":25},{"a":35,"v":22},{"a":35,"v":20},{"a":35,"v":18},{"a":35,"v":16},{"a":35,"v":15},{"a":35,"v":14},{"a":35,"v":13},{"a":35,"v":12},{"a":35,"v":11},{"a":35,"v":10},{"a":35,"v":9},{"a":35,"v":8},{"a":35,"v":7},{"a":35,"v":6},
{"a":36,"v":55},{"a":36,"v":35},{"a":36,"v":30},{"a":36,"v":27},{"a":36,"v":25},{"a":36,"v":22},{"a":36,"v":20},{"a":36,"v":18},{"a":36,"v":16},{"a":36,"v":15},{"a":36,"v":14},{"a":36,"v":13},{"a":36,"v":12},{"a":36,"v":11},{"a":36,"v":10},{"a":36,"v":9},{"a":36,"v":8},{"a":36,"v":7},{"a":36,"v":4},
{"a":37,"v":50},{"a":37,"v":30},{"a":37,"v":27},{"a":37,"v":25},{"a":37,"v":22},{"a":37,"v":20},{"a":37,"v":18},{"a":37,"v":16},{"a":37,"v":15},{"a":37,"v":14},{"a":37,"v":13},{"a":37,"v":12},{"a":37,"v":11},{"a":37,"v":10},{"a":37,"v":9},{"a":37,"v":8},{"a":37,"v":7},{"a":37,"v":6},{"a":37,"v":4},
{"a":38,"v":40},{"a":38,"v":30},{"a":38,"v":27},{"a":38,"v":25},{"a":38,"v":22},{"a":38,"v":20},{"a":38,"v":18},{"a":38,"v":16},{"a":38,"v":15},{"a":38,"v":14},{"a":38,"v":13},{"a":38,"v":12},{"a":38,"v":11},{"a":38,"v":10},{"a":38,"v":9},{"a":38,"v":8},{"a":38,"v":7},{"a":38,"v":6},
{"a":39,"v":35},{"a":39,"v":30},{"a":39,"v":27},{"a":39,"v":25},{"a":39,"v":22},{"a":39,"v":20},{"a":39,"v":18},{"a":39,"v":16},{"a":39,"v":15},{"a":39,"v":14},{"a":39,"v":13},{"a":39,"v":12},{"a":39,"v":11},{"a":39,"v":10},{"a":39,"v":9},{"a":39,"v":8},{"a":39,"v":7},{"a":39,"v":6},
{"a":40,"v":45},{"a":40,"v":30},{"a":40,"v":27},{"a":40,"v":25},{"a":40,"v":22},{"a":40,"v":20},{"a":40,"v":18},{"a":40,"v":16},{"a":40,"v":15},{"a":40,"v":14},{"a":40,"v":13},{"a":40,"v":12},{"a":40,"v":11},{"a":40,"v":10},{"a":40,"v":9},{"a":40,"v":8},{"a":40,"v":7},{"a":40,"v":6},{"a":40,"v":4},
{"a":41,"v":40},{"a":41,"v":30},{"a":41,"v":25},{"a":41,"v":22},{"a":41,"v":20},{"a":41,"v":18},{"a":41,"v":16},{"a":41,"v":14},{"a":41,"v":12},{"a":41,"v":10},{"a":41,"v":8},{"a":41,"v":7},{"a":41,"v":6},
{"a":42,"v":35},{"a":42,"v":30},{"a":42,"v":25},{"a":42,"v":20},{"a":42,"v":18},{"a":42,"v":16},{"a":42,"v":14},{"a":42,"v":12},{"a":42,"v":10},{"a":42,"v":9},{"a":42,"v":8},{"a":42,"v":6},{"a":42,"v":4},
{"a":43,"v":25},{"a":43,"v":20},{"a":43,"v":18},{"a":43,"v":16},{"a":43,"v":14},{"a":43,"v":12},{"a":43,"v":10},{"a":43,"v":8},{"a":43,"v":5},
{"a":44,"v":56},{"a":44,"v":30},{"a":44,"v":22},{"a":44,"v":18},{"a":44,"v":15},{"a":44,"v":13},{"a":44,"v":11},{"a":44,"v":9},{"a":44,"v":7},{"a":44,"v":5},
{"a":45,"v":70},{"a":45,"v":35},{"a":45,"v":25},{"a":45,"v":20},{"a":45,"v":18},{"a":45,"v":16},{"a":45,"v":14},{"a":45,"v":12},{"a":45,"v":10},{"a":45,"v":9},{"a":45,"v":8},{"a":45,"v":6},{"a":45,"v":5},
{"a":46,"v":30},{"a":46,"v":25},{"a":46,"v":20},{"a":46,"v":18},{"a":46,"v":16},{"a":46,"v":14},{"a":46,"v":12},{"a":46,"v":10},{"a":46,"v":8},{"a":46,"v":7},
{"a":47,"v":48},{"a":47,"v":35},{"a":47,"v":30},{"a":47,"v":25},{"a":47,"v":20},{"a":47,"v":18},{"a":47,"v":16},{"a":47,"v":14},{"a":47,"v":12},{"a":47,"v":10},{"a":47,"v":9},{"a":47,"v":8},{"a":47,"v":7},
{"a":48,"v":45},{"a":48,"v":35},{"a":48,"v":30},{"a":48,"v":25},{"a":48,"v":20},{"a":48,"v":18},{"a":48,"v":16},{"a":48,"v":14},{"a":48,"v":12},{"a":48,"v":11},{"a":48,"v":10},{"a":48,"v":9},{"a":48,"v":8},
{"a":49,"v":62},{"a":49,"v":35},{"a":49,"v":25},{"a":49,"v":20},{"a":49,"v":18},{"a":49,"v":16},{"a":49,"v":14},{"a":49,"v":12},{"a":49,"v":11},{"a":49,"v":10},{"a":49,"v":9},{"a":49,"v":8},
{"a":50,"v":33},{"a":50,"v":25},{"a":50,"v":20},{"a":50,"v":18},{"a":50,"v":16},{"a":50,"v":14},{"a":50,"v":13},{"a":50,"v":12},{"a":50,"v":11},{"a":50,"v":10},{"a":50,"v":9},{"a":50,"v":8},{"a":50,"v":3},
{"a":51,"v":25},{"a":51,"v":20},{"a":51,"v":18},{"a":51,"v":16},{"a":51,"v":14},{"a":51,"v":12},{"a":51,"v":10},{"a":51,"v":9},{"a":51,"v":8},
{"a":52,"v":30},{"a":52,"v":25},{"a":52,"v":20},{"a":52,"v":18},{"a":52,"v":16},{"a":52,"v":14},{"a":52,"v":12},{"a":52,"v":10},{"a":52,"v":9},
{"a":53,"v":42},{"a":53,"v":25},{"a":53,"v":20},{"a":53,"v":18},{"a":53,"v":16},{"a":53,"v":14},{"a":53,"v":12},{"a":53,"v":11},{"a":53,"v":10},{"a":53,"v":5},
{"a":54,"v":30},{"a":54,"v":22},{"a":54,"v":20},{"a":54,"v":18},{"a":54,"v":16},{"a":54,"v":14},{"a":54,"v":12},{"a":54,"v":10},{"a":54,"v":9},
{"a":55,"v":70},{"a":55,"v":28},{"a":55,"v":22},{"a":55,"v":20},{"a":55,"v":18},{"a":55,"v":16},{"a":55,"v":14},{"a":55,"v":12},{"a":55,"v":10},{"a":55,"v":9},{"a":55,"v":8},{"a":55,"v":6},
{"a":56,"v":86},{"a":56,"v":30},{"a":56,"v":22},{"a":56,"v":20},{"a":56,"v":18},{"a":56,"v":16},{"a":56,"v":14},{"a":56,"v":12},{"a":56,"v":10},{"a":56,"v":9},{"a":56,"v":6},
{"a":57,"v":35},{"a":57,"v":25},{"a":57,"v":20},{"a":57,"v":18},{"a":57,"v":16},{"a":57,"v":14},{"a":57,"v":12},{"a":57,"v":10},{"a":57,"v":8},{"a":57,"v":6},
{"a":58,"v":25},{"a":58,"v":20},{"a":58,"v":18},{"a":58,"v":16},{"a":58,"v":14},{"a":58,"v":12},{"a":58,"v":10},{"a":58,"v":9},{"a":58,"v":4},
{"a":59,"v":117},{"a":59,"v":45},{"a":59,"v":30},{"a":59,"v":22},{"a":59,"v":20},{"a":59,"v":18},{"a":59,"v":16},{"a":59,"v":14},{"a":59,"v":12},{"a":59,"v":10},{"a":59,"v":9},
{"a":60,"v":56},{"a":60,"v":40},{"a":60,"v":30},{"a":60,"v":25},{"a":60,"v":22},{"a":60,"v":20},{"a":60,"v":18},{"a":60,"v":16},{"a":60,"v":14},{"a":60,"v":12},{"a":60,"v":11},{"a":60,"v":10},{"a":60,"v":9},{"a":60,"v":8},{"a":60,"v":6},{"a":60,"v":5},
{"a":61,"v":40},{"a":61,"v":35},{"a":61,"v":30},{"a":61,"v":25},{"a":61,"v":22},{"a":61,"v":20},{"a":61,"v":18},{"a":61,"v":16},{"a":61,"v":15},{"a":61,"v":14},{"a":61,"v":13},{"a":61,"v":12},{"a":61,"v":11},{"a":61,"v":10},{"a":61,"v":9},{"a":61,"v":8},
{"a":62,"v":62},{"a":62,"v":58},{"a":62,"v":45},{"a":62,"v":40},{"a":62,"v":35},{"a":62,"v":30},{"a":62,"v":25},{"a":62,"v":22},{"a":62,"v":20},{"a":62,"v":18},{"a":62,"v":16},{"a":62,"v":15},{"a":62,"v":14},{"a":62,"v":13},{"a":62,"v":12},{"a":62,"v":11},{"a":62,"v":10},{"a":62,"v":9},{"a":62,"v":8},{"a":62,"v":7},{"a":62,"v":6},
{"a":63,"v":72},{"a":63,"v":62},{"a":63,"v":48},{"a":63,"v":40},{"a":63,"v":35},{"a":63,"v":30},{"a":63,"v":25},{"a":63,"v":22},{"a":63,"v":20},{"a":63,"v":18},{"a":63,"v":16},{"a":63,"v":15},{"a":63,"v":14},{"a":63,"v":13},{"a":63,"v":12},{"a":63,"v":11},{"a":63,"v":10},{"a":63,"v":9},{"a":63,"v":8},{"a":63,"v":7},
{"a":64,"v":58},{"a":64,"v":45},{"a":64,"v":38},{"a":64,"v":32},{"a":64,"v":28},{"a":64,"v":25},{"a":64,"v":22},{"a":64,"v":20},{"a":64,"v":18},{"a":64,"v":16},{"a":64,"v":15},{"a":64,"v":14},{"a":64,"v":13},{"a":64,"v":12},{"a":64,"v":11},{"a":64,"v":10},{"a":64,"v":9},{"a":64,"v":8},{"a":64,"v":5},
{"a":65,"v":45},{"a":65,"v":40},{"a":65,"v":35},{"a":65,"v":30},{"a":65,"v":25},{"a":65,"v":22},{"a":65,"v":20},{"a":65,"v":18},{"a":65,"v":16},{"a":65,"v":15},{"a":65,"v":14},{"a":65,"v":13},{"a":65,"v":12},{"a":65,"v":11},{"a":65,"v":10},{"a":65,"v":9},{"a":65,"v":8},{"a":65,"v":7},{"a":65,"v":5},{"a":65,"v":1},
{"a":66,"v":48},{"a":66,"v":40},{"a":66,"v":35},{"a":66,"v":30},{"a":66,"v":25},{"a":66,"v":22},{"a":66,"v":20},{"a":66,"v":18},{"a":66,"v":16},{"a":66,"v":14},{"a":66,"v":13},{"a":66,"v":12},{"a":66,"v":11},{"a":66,"v":10},{"a":66,"v":9},{"a":66,"v":8},{"a":66,"v":6},{"a":66,"v":5},
{"a":67,"v":56},{"a":67,"v":30},{"a":67,"v":25},{"a":67,"v":22},{"a":67,"v":20},{"a":67,"v":18},{"a":67,"v":16},{"a":67,"v":14},{"a":67,"v":12},{"a":67,"v":11},{"a":67,"v":10},{"a":67,"v":9},{"a":67,"v":8},{"a":67,"v":3},
{"a":68,"v":52},{"a":68,"v":30},{"a":68,"v":25},{"a":68,"v":22},{"a":68,"v":20},{"a":68,"v":18},{"a":68,"v":16},{"a":68,"v":14},{"a":68,"v":12},{"a":68,"v":11},{"a":68,"v":10},{"a":68,"v":9},{"a":68,"v":8},{"a":68,"v":7},
{"a":69,"v":57},{"a":69,"v":24},{"a":69,"v":20},{"a":69,"v":18},{"a":69,"v":16},{"a":69,"v":14},{"a":69,"v":13},{"a":69,"v":12},{"a":69,"v":11},{"a":69,"v":10},{"a":69,"v":9},
{"a":70,"v":57},{"a":70,"v":25},{"a":70,"v":20},{"a":70,"v":18},{"a":70,"v":16},{"a":70,"v":14},{"a":70,"v":12},{"a":70,"v":10},{"a":70,"v":8},{"a":70,"v":7},{"a":70,"v":5},
{"a":71,"v":35},{"a":71,"v":28},{"a":71,"v":22},{"a":71,"v":18},{"a":71,"v":16},{"a":71,"v":14},{"a":71,"v":12},{"a":71,"v":11},{"a":71,"v":10},{"a":71,"v":9},{"a":71,"v":8},{"a":71,"v":7},{"a":71,"v":4},
{"a":72,"v":43},{"a":72,"v":14},{"a":72,"v":12},{"a":72,"v":10},{"a":72,"v":8},{"a":72,"v":7},{"a":72,"v":4},
{"a":73,"v":36},{"a":73,"v":16},{"a":73,"v":12},{"a":73,"v":10},{"a":73,"v":7},{"a":73,"v":3},{"a":73,"v":2},
{"a":74,"v":16},{"a":74,"v":15},
{"a":75,"v":7},
{"a":76,"v":16},{"a":76,"v":15},{"a":76,"v":13},
{"a":77,"v":46},{"a":77,"v":24},{"a":77,"v":8},
{"a":78,"v":40},{"a":78,"v":38},
{"a":80,"v":12},{"a":80,"v":2}]
},
"vconcat":[
{
"width":1285,"height":422,
"title":{"text":"A","offset":-8},
"data":{"values":[
{"g":"0-4y","s":"Males","lo":4.6,"q1":11.6,"med":14.6,"q3":18.5,"hi":27.7},
{"g":"0-4y","s":"Females","lo":4.6,"q1":12.7,"med":15.7,"q3":19.7,"hi":29.6},
{"g":"5-9y","s":"Males","lo":3.5,"q1":15.7,"med":20.6,"q3":30.7,"hi":51.6},
{"g":"5-9y","s":"Females","lo":5.6,"q1":16.6,"med":19.7,"q3":24.7,"hi":36.7},
{"g":"10-14y","s":"Males","lo":3.5,"q1":17.6,"med":24.7,"q3":33.7,"hi":56.6,"star":"*"},
{"g":"10-14y","s":"Females","lo":6.7,"q1":15.7,"med":19.7,"q3":26.6,"hi":39.7},
{"g":"15-19y","s":"Males","lo":6.7,"q1":14.6,"med":19.7,"q3":30.7,"hi":54.7,"star":"*"},
{"g":"15-19y","s":"Females","lo":1.6,"q1":12.7,"med":17.6,"q3":21.7,"hi":34.7},
{"g":"20-24y","s":"Males","lo":5.6,"q1":13.7,"med":22.2,"q3":33.1,"hi":60.6,"star":"*"},
{"g":"20-24y","s":"Females","lo":1.6,"q1":9.7,"med":12.7,"q3":16.6,"hi":26.6},
{"g":"25-29y","s":"Males","lo":2.6,"q1":15.7,"med":21.7,"q3":44.7,"hi":78.6,"star":"*"},
{"g":"25-29y","s":"Females","lo":3.5,"q1":9.7,"med":12.7,"q3":17.6,"hi":26.6},
{"g":"30-34y","s":"Males","lo":6.7,"q1":17.2,"med":24.7,"q3":52.2,"hi":104.7,"star":"*"},
{"g":"30-34y","s":"Females","lo":2.6,"q1":9.7,"med":13.2,"q3":18.7,"hi":27.7},
{"g":"35-39y","s":"Males","lo":3.5,"q1":14.6,"med":21.7,"q3":33.7,"hi":61.6,"star":"*"},
{"g":"35-39y","s":"Females","lo":4.6,"q1":9.7,"med":13.7,"q3":17.6,"hi":29.6},
{"g":"40-49y","s":"Males","lo":7.6,"q1":13.2,"med":19.7,"q3":46.7,"hi":96.6,"star":"*"},
{"g":"40-49y","s":"Females","lo":4.6,"q1":9.7,"med":12.7,"q3":18.7,"hi":29.6},
{"g":"50-59y","s":"Males","lo":5.6,"q1":12.7,"med":20.6,"q3":59.6,"hi":129.5,"star":"*"},
{"g":"50-59y","s":"Females","lo":3.5,"q1":11.6,"med":15.7,"q3":19.7,"hi":27.7},
{"g":"60-69y","s":"Males","lo":3.5,"q1":9.7,"med":15.7,"q3":27.7,"hi":43.7},
{"g":"60-69y","s":"Females","lo":1.6,"q1":11.1,"med":14.6,"q3":20.2,"hi":32.6},
{"g":"70y+","s":"Males","lo":3.5,"q1":7.6,"med":10.7,"q3":19.7,"hi":32.6},
{"g":"70y+","s":"Females","lo":2.6,"q1":9.7,"med":12.7,"q3":16.6,"hi":23.6}]},
"encoding":{
"x":{"field":"g","type":"nominal","sort":null,"scale":{"paddingInner":0,"paddingOuter":0.1},"axis":{"title":null,"labelAngle":0,"labelPadding":9}},
"xOffset":{"field":"s","type":"nominal","sort":["Males","Females"],"scale":{"paddingInner":0.24,"paddingOuter":0.344}}
},
"layer":[
{"mark":{"type":"rule","strokeWidth":1.5},
"encoding":{"y":{"field":"lo","type":"quantitative","scale":{"domain":[-7.5,158],"nice":false,"zero":false},"axis":{"values":[0,50,100,150],"title":"Total number of contacts","labelPadding":12,"titlePadding":20}},"y2":{"field":"q1"},
"color":{"condition":{"test":"datum.s === 'Males'","value":"#3a74b6"},"value":"#c8323f"}}},
{"mark":{"type":"rule","strokeWidth":1.5},
"encoding":{"y":{"field":"q3","type":"quantitative"},"y2":{"field":"hi"},
"color":{"condition":{"test":"datum.s === 'Males'","value":"#3a74b6"},"value":"#c8323f"}}},
{"mark":{"type":"tick","size":21,"thickness":1.8},
"encoding":{"y":{"field":"lo","type":"quantitative"},
"color":{"condition":{"test":"datum.s === 'Males'","value":"#3a74b6"},"value":"#c8323f"}}},
{"mark":{"type":"tick","size":21,"thickness":1.8},
"encoding":{"y":{"field":"hi","type":"quantitative"},
"color":{"condition":{"test":"datum.s === 'Males'","value":"#3a74b6"},"value":"#c8323f"}}},
{"mark":{"type":"bar","strokeWidth":1.5},
"encoding":{"y":{"field":"q1","type":"quantitative"},"y2":{"field":"q3"},
"fill":{"field":"s","type":"nominal","scale":{"domain":["Males","Females"],"range":["#93b4d8","#da8a94"]},"legend":{"title":null,"orient":"none","legendX":44,"legendY":6,"direction":"horizontal","symbolType":"square","symbolSize":441,"labelFontSize":18,"columnPadding":26,"labelOffset":11,"symbolStrokeWidth":1.5,"labelColor":"#1a1a1a"}},
"stroke":{"field":"s","type":"nominal","scale":{"domain":["Males","Females"],"range":["#3a74b6","#c8323f"]},"legend":{"title":null,"orient":"none","legendX":44,"legendY":6,"direction":"horizontal","symbolType":"square","symbolSize":441,"labelFontSize":18,"columnPadding":26,"labelOffset":11,"symbolStrokeWidth":1.5,"labelColor":"#1a1a1a"}}}},
{"mark":{"type":"tick","size":32,"thickness":2},
"encoding":{"y":{"field":"med","type":"quantitative"},
"color":{"condition":{"test":"datum.s === 'Males'","value":"#3a74b6"},"value":"#c8323f"}}},
{"transform":[{"filter":{"field":"star","equal":"*"}}],
"mark":{"type":"text","fontSize":20,"fontWeight":"bold","color":"#333333","baseline":"alphabetic","dy":-2},
"encoding":{"y":{"field":"hi","type":"quantitative"},"text":{"field":"star"}}}
]
},
{
"width":1273,"height":455,
"title":{"text":"B","offset":8},
"layer":[
{"data":{"name":"mo"},
"mark":{"type":"point","shape":"circle","filled":true,"size":30,"strokeWidth":1,"opacity":0.85},
"encoding":{
"x":{"field":"a","type":"quantitative","scale":{"domain":[-0.8,80.8],"nice":false,"zero":false},"axis":{"values":[0,5,10,15,20,25,30,35,40,45,50,55,60,65,70,75,80],"title":"Age of respondent","labelPadding":10,"titlePadding":12}},
"y":{"field":"v","type":"quantitative","scale":{"type":"log","domain":[0.84,1250],"nice":false},"axis":{"values":[1,10,20,50,100,500,1000],"format":"d","title":"Total number of contacts","labelPadding":12,"titlePadding":10}},
"stroke":{"datum":"Male observed","type":"nominal","scale":{"domain":["Male observed","Male predicted","Female observed","Female predicted"],"range":["#4a76b8","#1e4f93","#de7d89","#bd1e2e"]},"legend":{"title":null,"orient":"none","legendX":10,"legendY":18,"columns":2,"symbolType":"circle","symbolSize":22,"labelFontSize":18,"rowPadding":9,"columnPadding":36,"labelOffset":9,"symbolStrokeWidth":1,"labelColor":"#1a1a1a"}},
"fill":{"datum":"Male observed","type":"nominal","scale":{"domain":["Male observed","Male predicted","Female observed","Female predicted"],"range":["transparent","#1e4f93","transparent","#bd1e2e"]},"legend":{"title":null,"orient":"none","legendX":10,"legendY":18,"columns":2,"symbolType":"circle","symbolSize":22,"labelFontSize":18,"rowPadding":9,"columnPadding":36,"labelOffset":9,"symbolStrokeWidth":1,"labelColor":"#1a1a1a"}}}},
{"data":{"name":"fo"},
"mark":{"type":"point","shape":"circle","filled":true,"size":30,"strokeWidth":1,"opacity":0.85},
"encoding":{"x":{"field":"a","type":"quantitative"},"y":{"field":"v","type":"quantitative"},
"stroke":{"datum":"Female observed","type":"nominal"},
"fill":{"datum":"Female observed","type":"nominal"}}},
{"data":{"name":"band"},
"mark":{"type":"area","interpolate":"monotone","color":"#848484","opacity":0.88},
"encoding":{"x":{"field":"a","type":"quantitative"},"y":{"field":"mlo","type":"quantitative"},"y2":{"field":"mhi"}}},
{"data":{"name":"band"},
"mark":{"type":"area","interpolate":"monotone","color":"#404040","opacity":0.85},
"encoding":{"x":{"field":"a","type":"quantitative"},"y":{"field":"flo","type":"quantitative"},"y2":{"field":"fhi"}}},
{"data":{"name":"pred"},
"mark":{"type":"point","shape":"circle","filled":true,"size":64,"strokeWidth":0,"opacity":1},
"encoding":{"x":{"field":"a","type":"quantitative"},"y":{"field":"m","type":"quantitative"},
"stroke":{"datum":"Male predicted","type":"nominal"},
"fill":{"datum":"Male predicted","type":"nominal"}}},
{"data":{"name":"pred"},
"mark":{"type":"point","shape":"circle","filled":true,"size":64,"strokeWidth":0,"opacity":1},
"encoding":{"x":{"field":"a","type":"quantitative"},"y":{"field":"f","type":"quantitative"},
"stroke":{"datum":"Female predicted","type":"nominal"},
"fill":{"datum":"Female predicted","type":"nominal"}}}
]
}
]
}
